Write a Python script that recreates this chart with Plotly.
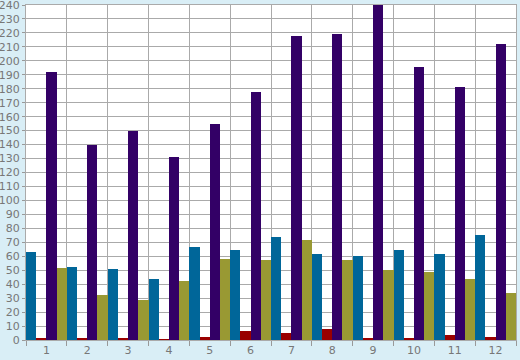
import plotly.graph_objects as go

categories = [str(i) for i in range(1, 13)]
teal = [63, 52, 51, 44, 66.5, 64.5, 73.5, 61.5, 60, 64.5, 61.5, 75.5]
red = [1.5, 1, 1.5, 0.5, 2, 6.5, 5, 8, 1.5, 1.5, 3.5, 2]
purple = [192, 139.5, 150, 131, 155, 177.5, 218, 219, 240, 195.5, 181, 212]
olive = [51.5, 32, 28.5, 42, 58, 57, 71.5, 57, 50, 48.5, 44, 33.5]

series = [
    ("teal", teal, "#006699"),
    ("red", red, "#990000"),
    ("purple", purple, "#330066"),
    ("olive", olive, "#999933"),
]

fig = go.Figure()
for name, vals, col in series:
    fig.add_trace(go.Bar(x=categories, y=vals, name=name, marker_color=col,
                         marker_line_width=0, hoverinfo="skip"))

fig.update_layout(
    width=520, height=360,
    margin=dict(l=26, r=4, t=5, b=20, autoexpand=False),
    paper_bgcolor="#D9EEF6",
    plot_bgcolor="#FFFFFF",
    barmode="group", bargap=0, bargroupgap=0,
    showlegend=False,
    font=dict(family="DejaVu Sans", size=11, color="#777777"),
)
fig.update_xaxes(
    type="category", tickson="boundaries", ticks="outside", ticklen=5,
    tickcolor="#999999", showgrid=True, gridcolor="#AAAAAA", gridwidth=1,
    showline=True, linecolor="#AAAAAA", mirror=True, automargin=False,
    ticklabelstandoff=0,
)
fig.update_yaxes(
    range=[0, 240], dtick=10, ticks="outside", ticklen=3, tickcolor="#999999",
    showgrid=True, gridcolor="#AAAAAA", gridwidth=1,
    showline=True, linecolor="#AAAAAA", mirror=True, zeroline=False,
    automargin=False, tickfont=dict(size=11), ticklabeloverflow="allow",
)
fig.write_html("out.html", config={"displayModeBar": False},
               post_script="document.body.style.margin='0';document.body.style.background='#D9EEF6';")
